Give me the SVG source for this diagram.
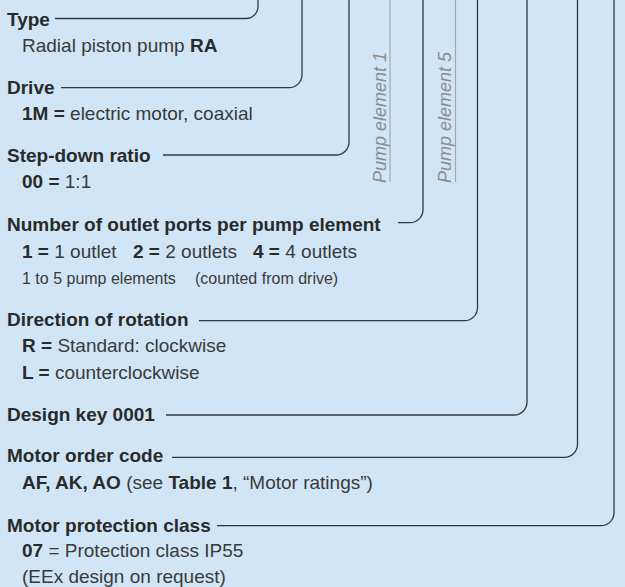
<svg xmlns="http://www.w3.org/2000/svg" width="625" height="587" viewBox="0 0 625 587">
<defs>
<style>
text{font-family:"Liberation Sans",Arial,sans-serif;font-size:19px;fill:#3a3a3a}
.h{font-weight:bold;fill:#2a2a2a}
.b{font-weight:bold;fill:#2a2a2a}
.s{font-size:16px}
.pe{font-style:italic;font-size:18px;fill:#8c8c8c}
.c{fill:none;stroke:#33383d;stroke-width:1.3}
.g{fill:none;stroke:#a3a8ad;stroke-width:1.2}
</style>
</defs>
<rect x="0" y="0" width="625" height="587" fill="#d0e6f7"/>
<g id="connectors">
<path class="c" d="M55 18.5 H246 A12 12 0 0 0 258 6.5 V0"/>
<path class="c" d="M61 87.7 H289 A13 13 0 0 0 302 74.7 V0"/>
<path class="c" d="M163 155 H336 A13 13 0 0 0 349 142 V0"/>
<path class="c" d="M398 222.7 H410 A13 13 0 0 0 423 209.7 V0"/>
<path class="c" d="M199 320.7 H464.5 A13 13 0 0 0 477.5 307.7 V0"/>
<path class="c" d="M166 415 H514 A13 13 0 0 0 527 402 V0"/>
<path class="c" d="M172 457.3 H564.5 A13 13 0 0 0 577.5 444.3 V0"/>
<path class="c" d="M217 525.7 H601 A13 13 0 0 0 614 512.7 V0"/>
<path class="g" d="M390 0 V182"/>
<path class="g" d="M455.5 0 V182"/>
</g>
<g id="pump1"><text class="pe" transform="translate(385.5,183) rotate(-90)">Pump element 1</text></g>
<g id="pump5"><text class="pe" transform="translate(451,183) rotate(-90)">Pump element 5</text></g>
<g id="type">
<text class="h" x="7" y="25.5">Type</text>
<text x="22" y="51.7">Radial piston pump <tspan class="b">RA</tspan></text>
</g>
<g id="drive">
<text class="h" x="7" y="93.5">Drive</text>
<text x="22" y="120"><tspan class="b">1M =</tspan> electric motor, coaxial</text>
</g>
<g id="stepdown">
<text class="h" x="7" y="161.5">Step-down ratio</text>
<text x="22" y="188"><tspan class="b">00 =</tspan> 1:1</text>
</g>
<g id="outlets">
<text class="h" x="7" y="230.5">Number of outlet ports per pump element</text>
<text x="22" y="257.5"><tspan class="b">1 =</tspan> 1 outlet<tspan x="133" class="b">2 =</tspan> 2 outlets<tspan x="253" class="b">4 =</tspan> 4 outlets</text>
<text class="s" x="22" y="284">1 to 5 pump elements<tspan x="195">(counted from drive)</tspan></text>
</g>
<g id="rotation">
<text class="h" x="7" y="325.5">Direction of rotation</text>
<text x="22" y="352.3"><tspan class="b">R =</tspan> Standard: clockwise</text>
<text x="22" y="379.3"><tspan class="b">L =</tspan> counterclockwise</text>
</g>
<g id="designkey">
<text class="h" x="7" y="420.7">Design key 0001</text>
</g>
<g id="motorcode">
<text class="h" x="7" y="462.3">Motor order code</text>
<text x="22" y="489.3"><tspan class="b">AF, AK, AO</tspan> (see <tspan class="b">Table 1</tspan>, “Motor ratings”)</text>
</g>
<g id="protection">
<text class="h" x="7" y="531.7">Motor protection class</text>
<text x="22" y="556.7"><tspan class="b">07</tspan> = Protection class IP55</text>
<text x="22" y="582.7">(EEx design on request)</text>
</g>
</svg>
